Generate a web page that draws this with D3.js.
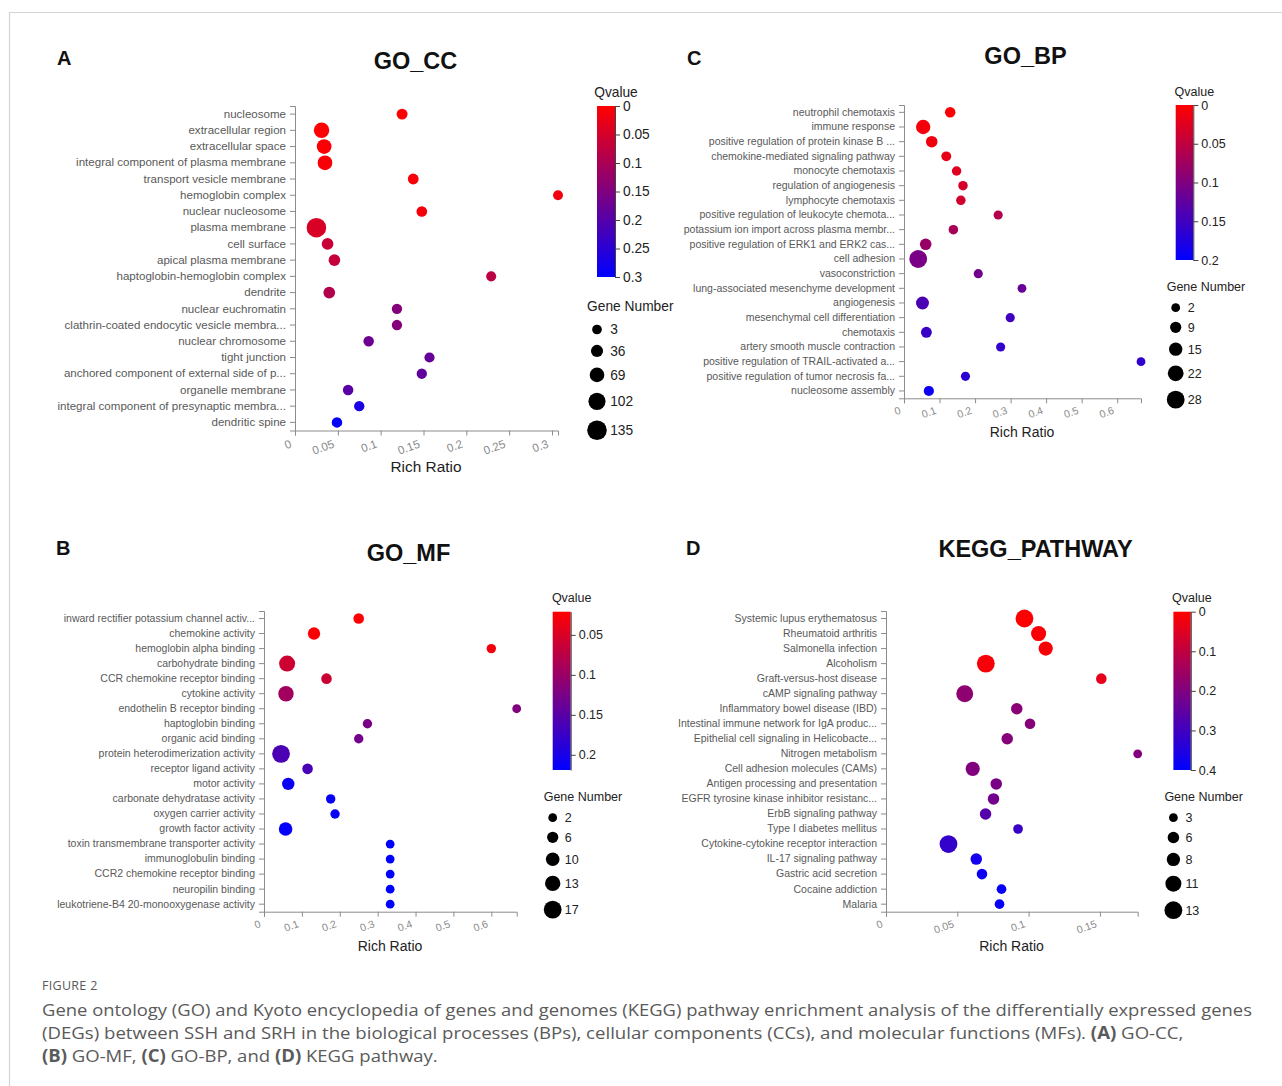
<!DOCTYPE html>
<html><head><meta charset="utf-8">
<script src="https://cdn.jsdelivr.net/npm/d3@7"></script>
<style>body{margin:0;background:#fff}svg{display:block}</style>
</head><body><svg id="c" width="1282" height="1086"></svg>
<script>
// ---------- GO_CC (A) ----------
const ccTerms = ["nucleosome","extracellular region","extracellular space","integral component of plasma membrane","transport vesicle membrane","hemoglobin complex","nuclear nucleosome","plasma membrane","cell surface","apical plasma membrane","haptoglobin-hemoglobin complex","dendrite","nuclear euchromatin","clathrin-coated endocytic vesicle membra...","nuclear chromosome","tight junction","anchored component of external side of p...","organelle membrane","integral component of presynaptic membra...","dendritic spine"];
const ccRatio = [0.125,0.031,0.034,0.035,0.138,0.307,0.148,0.025,0.038,0.046,0.229,0.040,0.119,0.119,0.086,0.157,0.148,0.062,0.075,0.049];
const ccQvalue = [0.005,0.004,0.006,0.008,0.010,0.015,0.012,0.045,0.065,0.068,0.080,0.090,0.145,0.145,0.170,0.180,0.185,0.195,0.270,0.295];
const ccGenes = [20,80,70,70,18,6,16,135,30,28,8,30,12,12,14,10,12,14,12,14];
const ccXTicks = [0,0.05,0.1,0.15,0.2,0.25,0.3];
const ccQDomain = [0,0.3];
const ccQTicks = [0,0.05,0.1,0.15,0.2,0.25,0.3];
const ccGeneLegend = [3,36,69,102,135];

// ---------- GO_BP (C) ----------
const bpTerms = ["neutrophil chemotaxis","immune response","positive regulation of protein kinase B ...","chemokine-mediated signaling pathway","monocyte chemotaxis","regulation of angiogenesis","lymphocyte chemotaxis","positive regulation of leukocyte chemota...","potassium ion import across plasma membr...","positive regulation of ERK1 and ERK2 cas...","cell adhesion","vasoconstriction","lung-associated mesenchyme development","angiogenesis","mesenchymal cell differentiation","chemotaxis","artery smooth muscle contraction","positive regulation of TRAIL-activated a...","positive regulation of tumor necrosis fa...","nucleosome assembly"];
const bpRatio = [0.130,0.054,0.078,0.119,0.148,0.166,0.160,0.265,0.139,0.061,0.040,0.209,0.332,0.052,0.299,0.063,0.272,0.667,0.173,0.070];
const bpQvalue = [0.003,0.008,0.012,0.018,0.025,0.033,0.035,0.060,0.068,0.080,0.105,0.110,0.120,0.140,0.150,0.155,0.160,0.162,0.165,0.190];
const bpGenes = [7,18,10,5,4,4,4,3,4,10,28,3,2,14,3,8,3,2,3,6];
const bpXTicks = [0,0.1,0.2,0.3,0.4,0.5,0.6];
const bpQDomain = [0,0.2];
const bpQTicks = [0,0.05,0.1,0.15,0.2];
const bpGeneLegend = [2,9,15,22,28];

// ---------- GO_MF (B) ----------
const mfTerms = ["inward rectifier potassium channel activ...","chemokine activity","hemoglobin alpha binding","carbohydrate binding","CCR chemokine receptor binding","cytokine activity","endothelin B receptor binding","haptoglobin binding","organic acid binding","protein heterodimerization activity","receptor ligand activity","motor activity","carbonate dehydratase activity","oxygen carrier activity","growth factor activity","toxin transmembrane transporter activity","immunoglobulin binding","CCR2 chemokine receptor binding","neuropilin binding","leukotriene-B4 20-monooxygenase activity"];
const mfRatio = [0.250,0.132,0.600,0.061,0.165,0.058,0.667,0.273,0.250,0.045,0.115,0.064,0.176,0.1875,0.057,0.333,0.333,0.333,0.333,0.333];
const mfQvalue = [0.022,0.025,0.030,0.060,0.062,0.094,0.120,0.125,0.130,0.160,0.163,0.210,0.212,0.212,0.215,0.219,0.219,0.219,0.219,0.219];
const mfGenes = [5,8,3,14,5,13,2,3,3,17,5,8,3,3,10,2,2,2,2,2];
const mfXTicks = [0,0.1,0.2,0.3,0.4,0.5,0.6];
const mfQDomain = [0.021,0.219];
const mfQTicks = [0.05,0.1,0.15,0.2];
const mfGeneLegend = [2,6,10,13,17];

// ---------- KEGG (D) ----------
const kgTerms = ["Systemic lupus erythematosus","Rheumatoid arthritis","Salmonella infection","Alcoholism","Graft-versus-host disease","cAMP signaling pathway","Inflammatory bowel disease (IBD)","Intestinal immune network for IgA produc...","Epithelial cell signaling in Helicobacte...","Nitrogen metabolism","Cell adhesion molecules (CAMs)","Antigen processing and presentation","EGFR tyrosine kinase inhibitor resistanc...","ErbB signaling pathway","Type I diabetes mellitus","Cytokine-cytokine receptor interaction","IL-17 signaling pathway","Gastric acid secretion","Cocaine addiction","Malaria"];
const kgRatio = [0.0971,0.107,0.112,0.070,0.151,0.0552,0.0917,0.101,0.085,0.1765,0.0608,0.0773,0.0754,0.0698,0.0926,0.0438,0.0633,0.0673,0.081,0.0796];
const kgQvalue = [0.003,0.010,0.010,0.012,0.040,0.175,0.185,0.190,0.190,0.200,0.200,0.210,0.220,0.265,0.310,0.320,0.370,0.380,0.390,0.390];
const kgGenes = [13,10,9,13,5,12,6,5,6,3,9,6,6,6,4,13,6,5,4,4];
const kgXTicks = [0,0.05,0.1,0.15];
const kgQDomain = [0,0.4];
const kgQTicks = [0,0.1,0.2,0.3,0.4];
const kgGeneLegend = [3,6,8,11,13];

const FONT = "'Liberation Sans', Arial, sans-serif";
const svg = d3.select("#c");
svg.append("rect").attr("width",1282).attr("height",1086).attr("fill","#fff");
svg.append("path").attr("d","M9.5,1086V12.5H1282").attr("fill","none").attr("stroke","#d4d4d4").attr("stroke-width",1.2);

const panels = [
  {id:"A", title:"GO_CC", terms:ccTerms, ratio:ccRatio, q:ccQvalue, genes:ccGenes, xTicks:ccXTicks, qDomain:ccQDomain, qTicks:ccQTicks, geneLegend:ccGeneLegend,
   s:1.1, letter:[57,65], titleXY:[415.5,69], x0:295, x1:558, y0:106, y1:430.5, xLabel:[426,472], barX:597, barW:18, barY0:106, barY1:277},
  {id:"C", title:"GO_BP", terms:bpTerms, ratio:bpRatio, q:bpQvalue, genes:bpGenes, xTicks:bpXTicks, qDomain:bpQDomain, qTicks:bpQTicks, geneLegend:bpGeneLegend,
   s:1, letter:[687,65], titleXY:[1025.5,64], x0:904, x1:1141, y0:105, y1:398.3, xLabel:[1022,437], barX:1175.7, barW:17.6, barY0:105, barY1:260},
  {id:"B", title:"GO_MF", terms:mfTerms, ratio:mfRatio, q:mfQvalue, genes:mfGenes, xTicks:mfXTicks, qDomain:mfQDomain, qTicks:mfQTicks, geneLegend:mfGeneLegend,
   s:1, letter:[56,555], titleXY:[408.5,561], x0:264, x1:516.7, y0:611, y1:911.7, xLabel:[390,951], barX:552.7, barW:18, barY0:611.7, barY1:770},
  {id:"D", title:"KEGG_PATHWAY", terms:kgTerms, ratio:kgRatio, q:kgQvalue, genes:kgGenes, xTicks:kgXTicks, qDomain:kgQDomain, qTicks:kgQTicks, geneLegend:kgGeneLegend,
   s:1, letter:[686,555], titleXY:[1035.5,557], x0:886, x1:1137.7, y0:611, y1:911.7, xLabel:[1011.5,951], barX:1173.4, barW:17.4, barY0:611.7, barY1:770}
];

panels.forEach(drawPanel);

function drawPanel(p){
  const s = p.s;
  const g = svg.append("g").attr("font-family", FONT);
  const x = d3.scaleLinear().domain([0, d3.max(p.ratio)]).range([p.x0, p.x1]);
  const y = d3.scaleBand().domain(p.terms).range([p.y0, p.y1]);
  const color = d3.scaleLinear().domain(p.qDomain).range(["#ff0000","#0000ff"]).interpolate(d3.interpolateRgb).clamp(true);
  const gl = p.geneLegend;
  const r = d3.scaleLinear().domain([gl[0], gl[gl.length-1]]).range([4.4*s, 8.9*s]);

  g.append("text").attr("x",p.letter[0]).attr("y",p.letter[1]).attr("font-size",20).attr("font-weight","bold").attr("fill","#111").text(p.id);
  g.append("text").attr("x",p.titleXY[0]).attr("y",p.titleXY[1]).attr("text-anchor","middle").attr("font-size",23.5).attr("font-weight","bold").attr("fill","#111").text(p.title);

  // y axis
  const ya = g.append("g").attr("transform",`translate(${p.x0},0)`)
    .call(d3.axisLeft(y).tickSize(5).tickSizeOuter(5).tickPadding(4));
  ya.selectAll("path,line").attr("stroke","#8c8c8c");
  ya.selectAll("text").attr("font-size",10.5*s).attr("fill","#595959").attr("font-family",FONT);

  // x axis
  const xa = g.append("g").attr("transform",`translate(0,${p.y1})`)
    .call(d3.axisBottom(x).tickValues(p.xTicks).tickFormat(d=>String(d)).tickSize(5).tickSizeOuter(5));
  xa.selectAll("path,line").attr("stroke","#8c8c8c");
  xa.selectAll("text").attr("font-size",10.5*s).attr("fill","#8a8a8a").attr("font-family",FONT)
    .attr("text-anchor","end").attr("x",null).attr("y",null).attr("dy",null)
    .attr("transform",`translate(${-3*s},${15*s}) rotate(-20)`);
  g.append("text").attr("x",p.xLabel[0]).attr("y",p.xLabel[1]).attr("text-anchor","middle").attr("font-size",14*s).attr("fill","#222").text("Rich Ratio");

  // dots
  const idx = d3.range(p.terms.length);
  g.append("g").selectAll("circle").data(idx).join("circle")
    .attr("cx",i=>x(p.ratio[i])).attr("cy",i=>y(p.terms[i])+y.bandwidth()/2)
    .attr("r",i=>r(p.genes[i])).attr("fill",i=>color(p.q[i]));

  // Qvalue legend
  const gid = "grad"+p.id;
  const grad = svg.append("defs").append("linearGradient").attr("id",gid).attr("x1",0).attr("y1",0).attr("x2",0).attr("y2",1);
  d3.range(0,1.0001,0.1).forEach(t=>{
    grad.append("stop").attr("offset",t).attr("stop-color",color(p.qDomain[0]+t*(p.qDomain[1]-p.qDomain[0])));
  });
  const barR = p.barX + p.barW;
  g.append("text").attr("x",barR+1).attr("y",p.barY0-9.5).attr("text-anchor","middle").attr("font-size",12.5*s).attr("fill","#222").text("Qvalue");
  g.append("rect").attr("x",p.barX).attr("y",p.barY0).attr("width",p.barW).attr("height",p.barY1-p.barY0).attr("fill",`url(#${gid})`);
  const qy = d3.scaleLinear().domain(p.qDomain).range([p.barY0,p.barY1]);
  const qa = g.append("g").attr("transform",`translate(${barR},0)`)
    .call(d3.axisRight(qy).tickValues(p.qTicks).tickFormat(d=>String(d)).tickSize(5).tickSizeOuter(0).tickPadding(3));
  qa.selectAll("path,line").attr("stroke","#444");
  qa.selectAll("text").attr("font-size",12.5*s).attr("fill","#222").attr("font-family",FONT);

  // Gene number legend
  const tY = p.barY1 + 31*s;
  g.append("text").attr("x",p.barX-9*s).attr("y",tY).attr("font-size",12.5*s).attr("fill","#222").text("Gene Number");
  let cy = tY + 16.7*s;
  const ys = gl.map((v,i)=>{ if(i>0) cy += r(gl[i-1]) + r(v) + 9.6*s; return cy; });
  const lg = g.append("g");
  lg.selectAll("circle").data(gl).join("circle").attr("cx",p.barX).attr("cy",(d,i)=>ys[i]).attr("r",d=>r(d)).attr("fill","#000");
  lg.selectAll("text").data(gl).join("text").attr("x",p.barX+12*s).attr("y",(d,i)=>ys[i]).attr("dy","0.35em")
    .attr("font-size",12.5*s).attr("fill","#222").text(d=>d);
}

// caption
const CF = "'Open Sans', 'Noto Sans', sans-serif";
const cap = svg.append("g").attr("font-family",CF).attr("fill","#5a5a5a");
cap.append("text").attr("x",42).attr("y",990).attr("font-size",12.5).attr("letter-spacing",0.3).text("FIGURE 2");
const lines = [
  {y:1016, w:1210, parts:[["Gene ontology (GO) and Kyoto encyclopedia of genes and genomes (KEGG) pathway enrichment analysis of the differentially expressed genes",false]]},
  {y:1039, w:1142, parts:[["(DEGs) between SSH and SRH in the biological processes (BPs), cellular components (CCs), and molecular functions (MFs). ",false],["(A)",true],[" GO-CC,",false]]},
  {y:1062, w:396, parts:[["(B)",true],[" GO-MF, ",false],["(C)",true],[" GO-BP, and ",false],["(D)",true],[" KEGG pathway.",false]]}
];
lines.forEach(l=>{
  const t = cap.append("text").attr("font-size",17).attr("x",0).attr("y",0);
  l.parts.forEach(pt=>t.append("tspan").attr("font-weight",pt[1]?"bold":null).text(pt[0]));
  const len = t.node().getComputedTextLength();
  const k = len>0 ? l.w/len : 1;
  t.attr("transform",`translate(42,${l.y}) scale(${k},1)`);
});
</script></body></html>
